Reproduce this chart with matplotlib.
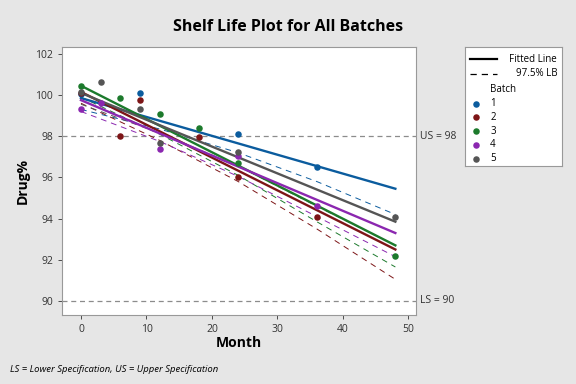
import matplotlib
matplotlib.use('Agg')
import matplotlib.pyplot as plt
from matplotlib.lines import Line2D

plt.rcParams['font.family'] = ['Open Sans', 'DejaVu Sans']

# batch labels and colours
batches = ['1', '2', '3', '4', '5']
colors = ['#0b5c9e', '#7d1517', '#1c7a2c', '#8b27b0', '#555555']

# observed points (month, drug%)
obs_month = [
    [0, 9, 24, 36],
    [0, 6, 9, 18, 24, 36],
    [0, 6, 12, 18, 24, 48],
    [0, 3, 12, 24, 36],
    [0, 3, 9, 12, 24, 48],
]
obs_value = [
    [100.05, 100.08, 98.09, 96.49],
    [100.1, 98.02, 99.74, 97.97, 96.0, 94.06],
    [100.44, 99.85, 99.06, 98.38, 96.7, 92.2],
    [99.33, 99.6, 97.36, 97.06, 94.6],
    [100.16, 100.63, 99.3, 97.68, 97.22, 94.06],
]

# fitted line values at month 0 and 48
fit_month = [0, 48]
fit_value = [
    [99.85, 95.45],
    [100.15, 92.5],
    [100.45, 92.7],
    [99.75, 93.3],
    [100.1, 93.85],
]

# 97.5% lower bound read at a few months
lb_month = [0, 12, 24, 36, 48]
lb_value = [
    [99.3, 98.35, 97.2, 95.8, 94.2],
    [99.6, 97.8, 95.8, 93.5, 91.05],
    [99.9, 98.1, 96.1, 93.85, 91.65],
    [99.2, 97.75, 96.05, 94.1, 92.15],
    [99.55, 98.15, 96.55, 94.6, 92.7],
]

spec_values = [98, 90]
spec_labels = ['US = 98', 'LS = 90']


def main():
    fig = plt.figure(figsize=(5.76, 3.84), dpi=100)
    fig.patch.set_facecolor('#e6e6e6')
    ax = fig.add_axes([0.1076, 0.1797, 0.6146, 0.6979])
    ax.set_facecolor('white')

    # spec limits
    for v, lab in zip(spec_values, spec_labels):
        ax.axhline(v, color='#8c8c8c', lw=0.9, ls=(0, (4, 3)), zorder=1)
        ax.text(1.01, v, lab, transform=ax.get_yaxis_transform(),
                va='center', ha='left', fontsize=7.5, color='#333333',
                clip_on=False)

    # fitted lines, lower bounds and points
    for i in range(len(batches)):
        c = colors[i]
        ax.plot(lb_month, lb_value[i], color=c, lw=0.7, ls=(0, (6, 5)),
                zorder=2)
        ax.plot(fit_month, fit_value[i], color=c, lw=1.7, zorder=3)
        ax.scatter(obs_month[i], obs_value[i], color=c, s=22, zorder=4,
                   linewidths=0)

    ax.set_xlim(-2.9, 51.15)
    ax.set_ylim(89.32, 102.33)
    ax.set_xticks(range(0, 51, 10))
    ax.set_yticks(range(90, 103, 2))
    ax.tick_params(labelsize=7.5, colors='#333333', length=3, width=0.6)
    for s in ax.spines.values():
        s.set_color('#999999')
    ax.set_xlabel('Month', fontsize=10, fontweight='bold', labelpad=1)
    ax.set_ylabel('Drug%', fontsize=10, fontweight='bold', labelpad=4)

    fig.text(0.5, 0.93, 'Shelf Life Plot for All Batches', ha='center',
             va='center', fontsize=11.5, fontweight='bold')
    fig.text(0.017, 0.037, 'LS = Lower Specification, US = Upper Specification',
             fontsize=6.8, style='italic', va='center')

    # legend box
    lax = fig.add_axes([465 / 576, 1 - 166 / 384, 97 / 576, 119 / 384])
    lax.set_xlim(0, 1)
    lax.set_ylim(0, 1)
    lax.set_xticks([])
    lax.set_yticks([])
    lax.set_facecolor('white')
    for s in lax.spines.values():
        s.set_color('#999999')
    lax.add_line(Line2D([0.05, 0.33], [0.895, 0.895], color='black', lw=1.6))
    lax.text(0.95, 0.895, 'Fitted Line', ha='right', va='center', fontsize=7)
    lax.add_line(Line2D([0.05, 0.33], [0.775, 0.775], color='black', lw=0.9,
                        ls=(0, (5, 4))))
    lax.text(0.95, 0.775, '97.5% LB', ha='right', va='center', fontsize=7)
    lax.text(0.26, 0.64, 'Batch', ha='left', va='center', fontsize=7)
    for i, b in enumerate(batches):
        y = 0.525 - i * 0.116
        lax.scatter([0.11], [y], color=colors[i], s=22, linewidths=0)
        lax.text(0.26, y, b, ha='left', va='center', fontsize=7)

    fig.savefig('out.png', dpi=100, facecolor=fig.get_facecolor())


if __name__ == '__main__':
    main()
